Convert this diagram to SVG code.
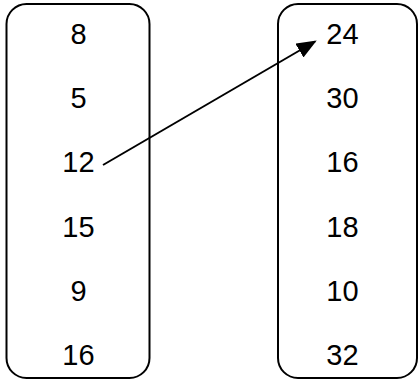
<svg xmlns="http://www.w3.org/2000/svg" width="419" height="383" viewBox="0 0 419 383">
<style>
.box{fill:#fff;stroke:#000;stroke-width:2}
.t{font-family:"Liberation Sans",Arial,sans-serif;font-size:29px;fill:#000;text-anchor:middle}
.conn{stroke:#000;stroke-width:2;fill:none}
</style>
<defs>
<marker id="ah" markerWidth="10" markerHeight="8" refX="9" refY="4" orient="auto" markerUnits="strokeWidth">
<path d="M0,0 L10,4 L0,8 Z" fill="#000"/>
</marker>
</defs>
<rect width="419" height="383" fill="#fff"/>
<g id="left">
<rect class="box" x="6.5" y="4" width="143" height="374" rx="20" ry="20"/>
<text class="t" x="78.5" y="44">8</text>
<text class="t" x="78.5" y="108">5</text>
<text class="t" x="78.5" y="172">12</text>
<text class="t" x="78.5" y="237">15</text>
<text class="t" x="78.5" y="301">9</text>
<text class="t" x="78.5" y="365">16</text>
</g>
<g id="right">
<rect class="box" x="278" y="4" width="139" height="374" rx="20" ry="20"/>
<text class="t" x="342.5" y="44">24</text>
<text class="t" x="342.5" y="108">30</text>
<text class="t" x="342.5" y="172">16</text>
<text class="t" x="342.5" y="237">18</text>
<text class="t" x="342.5" y="301">10</text>
<text class="t" x="342.5" y="365">32</text>
</g>
<g id="connectors">
<line class="conn" x1="103" y1="165" x2="315" y2="41.5" marker-end="url(#ah)"/>
</g>
</svg>
